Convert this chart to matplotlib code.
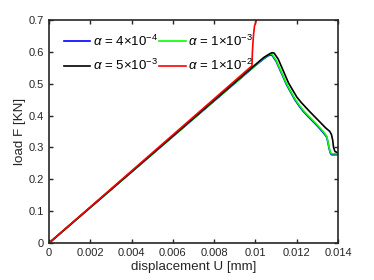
import matplotlib
matplotlib.use("Agg")
import matplotlib.pyplot as plt

plt.rcParams["font.family"] = ["Liberation Sans", "DejaVu Sans"]
plt.rcParams["mathtext.fontset"] = "custom"
plt.rcParams["mathtext.rm"] = "Liberation Sans"
plt.rcParams["mathtext.it"] = "Liberation Sans:italic"

# displacement [mm] and load [KN]
u_blue = [0, 0.0100, 0.0104, 0.0106, 0.01072, 0.0108, 0.0110, 0.0115, 0.0119, 0.0121, 0.0123, 0.0125, 0.0130, 0.0133, 0.01345, 0.0135, 0.01356, 0.01362, 0.01368, 0.0140]
f_blue = [0, 0.557, 0.578, 0.587, 0.590, 0.589, 0.570, 0.497, 0.450, 0.431, 0.414, 0.400, 0.367, 0.345, 0.332, 0.318, 0.298, 0.283, 0.277, 0.277]

u_green = [0, 0.0100, 0.0104, 0.0106, 0.01072, 0.0108, 0.0110, 0.0115, 0.0119, 0.0121, 0.0123, 0.0125, 0.0130, 0.0133, 0.01345, 0.0135, 0.01356, 0.01362, 0.01368, 0.0140]
f_green = [0, 0.558, 0.580, 0.589, 0.593, 0.592, 0.573, 0.500, 0.453, 0.434, 0.417, 0.403, 0.370, 0.348, 0.335, 0.321, 0.301, 0.286, 0.280, 0.280]

u_black = [0, 0.0100, 0.0104, 0.0107, 0.0108, 0.0109, 0.0111, 0.0116, 0.0120, 0.0122, 0.0124, 0.0126, 0.0131, 0.0134, 0.0136, 0.01368, 0.01374, 0.01378, 0.01385, 0.0140]
f_black = [0, 0.560, 0.582, 0.594, 0.597, 0.596, 0.577, 0.502, 0.458, 0.442, 0.428, 0.414, 0.381, 0.361, 0.350, 0.340, 0.322, 0.300, 0.287, 0.283]

u_red = [0, 0.00983, 0.00985, 0.0099, 0.00995, 0.0101]
f_red = [0, 0.556, 0.600, 0.650, 0.680, 0.710]

fig = plt.figure(figsize=(3.74, 2.8), dpi=100)
ax = fig.add_axes([0.131, 0.132, 0.773, 0.797])

lb, = ax.plot(u_blue, f_blue, color="blue", lw=1.2)
lg, = ax.plot(u_green, f_green, color="#00ff00", lw=1.2)
lk, = ax.plot(u_black, f_black, color="black", lw=1.2)
lr, = ax.plot(u_red, f_red, color="red", lw=1.2)

ax.set_xlim(0, 0.014)
ax.set_ylim(0, 0.7)
ax.set_xticks([0, 0.002, 0.004, 0.006, 0.008, 0.01, 0.012, 0.014])
ax.set_xticklabels(["0", "0.002", "0.004", "0.006", "0.008", "0.01", "0.012", "0.014"])
ax.set_yticks([0, 0.1, 0.2, 0.3, 0.4, 0.5, 0.6, 0.7])
ax.set_yticklabels(["0", "0.1", "0.2", "0.3", "0.4", "0.5", "0.6", "0.7"])

ax.tick_params(direction="in", top=True, right=True, length=3, width=1,
               labelsize=8, colors="#262626", labelcolor="#262626")
for s in ax.spines.values():
    s.set_linewidth(1.2)
    s.set_color("#262626")

ax.set_xlabel("displacement U [mm]", fontsize=9.6, color="#262626", labelpad=2)
ax.set_ylabel("load F [KN]", fontsize=9.6, color="#262626", labelpad=2)

# legend filled row by row: blue, green / black, red
ax.legend([lb, lk, lg, lr],
          [r"$\alpha$ = 4$\times$10$^{-4}$", r"$\alpha$ = 5$\times$10$^{-3}$",
           r"$\alpha$ = 1$\times$10$^{-3}$", r"$\alpha$ = 1$\times$10$^{-2}$"],
          ncol=2, frameon=False, loc="upper left", fontsize=9.5,
          handlelength=2.0, handletextpad=0.2, columnspacing=0.1,
          borderaxespad=0.3, labelspacing=0.7, bbox_to_anchor=(0.02, 0.98))

fig.savefig("out.png", dpi=100)
